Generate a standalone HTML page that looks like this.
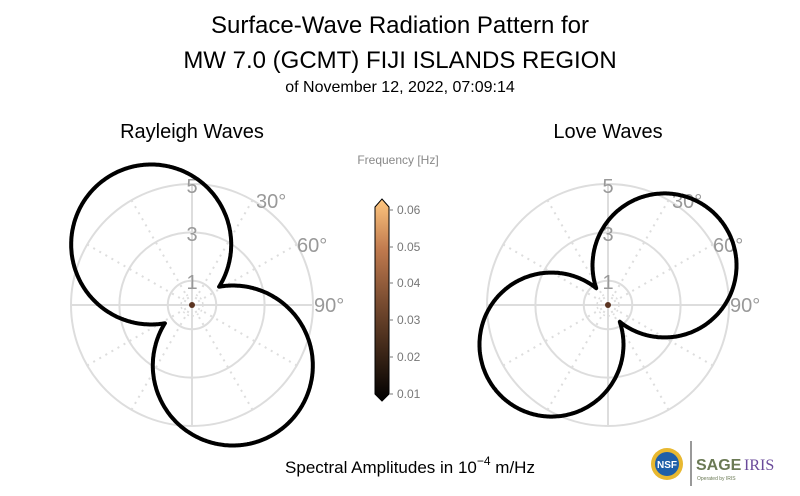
<!DOCTYPE html>
<html><head><meta charset="utf-8"><style>
body{margin:0;background:#fff;}
svg{display:block;font-family:"Liberation Sans",sans-serif;}
</style></head><body>
<svg id="s" width="800" height="496" viewBox="0 0 800 496" xmlns="http://www.w3.org/2000/svg">
<defs>
<linearGradient id="cb" x1="0" y1="1" x2="0" y2="0">
<stop offset="0" stop-color="#000000"/>
<stop offset="0.25" stop-color="#3e2718"/>
<stop offset="0.5" stop-color="#7c4e32"/>
<stop offset="0.75" stop-color="#c07a4e"/>
<stop offset="1" stop-color="#ffc77f"/>
</linearGradient>
</defs>
<text x="400" y="33" font-size="24" text-anchor="middle">Surface-Wave Radiation Pattern for</text>
<text x="400" y="68" font-size="24" text-anchor="middle">MW 7.0 (GCMT) FIJI ISLANDS REGION</text>
<text x="400" y="92" font-size="16" text-anchor="middle">of November 12, 2022, 07:09:14</text>
<text x="192" y="138" font-size="20" text-anchor="middle">Rayleigh Waves</text>
<text x="608" y="138" font-size="20" text-anchor="middle">Love Waves</text>
<text x="398" y="164" font-size="12" fill="#888" text-anchor="middle">Frequency [Hz]</text>
<g id="grids"></g>
<path d="M375 207 L382 199 L389 207 L389 394 L382 401 L375 394 Z" fill="url(#cb)" stroke="#000" stroke-width="1"/>
<g font-size="12" fill="#777" stroke="none">
<g stroke="#777"><line x1="389" y1="210" x2="393" y2="210"/><line x1="389" y1="247" x2="393" y2="247"/><line x1="389" y1="283" x2="393" y2="283"/><line x1="389" y1="320" x2="393" y2="320"/><line x1="389" y1="357" x2="393" y2="357"/><line x1="389" y1="394" x2="393" y2="394"/></g>
<text x="397" y="214">0.06</text><text x="397" y="251">0.05</text><text x="397" y="287">0.04</text><text x="397" y="324">0.03</text><text x="397" y="361">0.02</text><text x="397" y="398">0.01</text>
</g>
<text x="410" y="473" font-size="17" text-anchor="middle">Spectral Amplitudes in 10<tspan font-size="12" dy="-8">−4</tspan><tspan dy="8"> m/Hz</tspan></text>
<g>
<circle cx="667" cy="464" r="16" fill="#e8b830"/>
<circle cx="667" cy="464" r="12" fill="#1f5fa8"/>
<text x="667" y="468" font-size="10" fill="#fff" text-anchor="middle" font-weight="bold">NSF</text>
<line x1="691" y1="441" x2="691" y2="486" stroke="#333" stroke-width="1"/>
<text x="696" y="470" font-size="16" font-weight="bold" fill="#6b7a55">SAGE</text>
<text x="744" y="470" font-size="16" fill="#6a4a9a" font-family="Liberation Serif,serif">IRIS</text>
<text x="697" y="480" font-size="5" fill="#6b7a55">Operated by IRIS</text>
</g>
</svg>
<script>
(function(){
var NS="http://www.w3.org/2000/svg",g=document.getElementById("grids"),s=document.getElementById("s");
function el(t,a,p){var e=document.createElementNS(NS,t);for(var k in a)e.setAttribute(k,a[k]);(p||g).appendChild(e);return e;}
function polar(cx,cy,axis,d,R){
 var u=24.2;
 [1,3,5].forEach(function(r){el("circle",{cx:cx,cy:cy,r:r*u,fill:"none",stroke:"#ddd","stroke-width":2});});
 el("circle",{cx:cx,cy:cy,r:0.45*u,fill:"none",stroke:"#ddd","stroke-width":1.5,"stroke-dasharray":"2 3"});
 for(var a=0;a<360;a+=30){var t=a*Math.PI/180,x=cx+Math.sin(t)*121,y=cy-Math.cos(t)*121;
  if(a%90==0)el("line",{x1:cx,y1:cy,x2:x,y2:y,stroke:"#ddd","stroke-width":2});
  else el("line",{x1:cx,y1:cy,x2:x,y2:y,stroke:"#ddd","stroke-width":2,"stroke-dasharray":"2 5"});}
 var lab=[["5",cx,cy-112],["3",cx,cy-64],["1",cx,cy-16]];
 lab.forEach(function(l){var e=el("text",{x:l[1],y:l[2],"font-size":20,fill:"#999","text-anchor":"middle"});e.textContent=l[0];});
 [["30°",cx+64,cy-97],["60°",cx+105,cy-53],["90°",cx+122,cy+7]].forEach(function(l){var e=el("text",{x:l[1],y:l[2],"font-size":20,fill:"#999"});e.textContent=l[0];});
 var pts=[];
 for(var i=0;i<=720;i++){var phi=i/2*Math.PI/180,best=0;
  [axis,axis+180].forEach(function(ax){var p=phi-ax*Math.PI/180;var dis=R*R-d*d*Math.sin(p)*Math.sin(p);
   if(dis>=0){var r=d*Math.cos(p)+Math.sqrt(dis);if(r>best)best=r;}});
  pts.push((cx+Math.sin(phi)*best).toFixed(1)+","+(cy-Math.cos(phi)*best).toFixed(1));}
 el("path",{d:"M"+pts.join("L")+"Z",fill:"none",stroke:"#000","stroke-width":4,"stroke-linejoin":"round"},s);
 el("circle",{cx:cx,cy:cy,r:3,fill:"#5a3320"},s);
}
polar(192,305,-34,73,80);
polar(608,305,55,69,72);
})();
</script>
</body></html>
